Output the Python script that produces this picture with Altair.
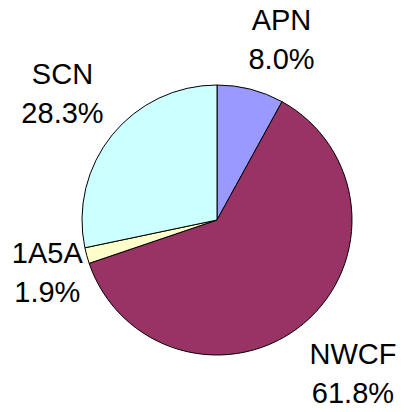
import altair as alt
import pandas as pd

categories = ["APN", "NWCF", "1A5A", "SCN"]
values = [8.0, 61.8, 1.9, 28.3]
colors = ["#9999FF", "#993366", "#FFFFCC", "#CCFFFF"]

# label placement styling (radius from centre, fine offsets)
label_style = {
    "APN": dict(r=191, dx=17, dy=-14),
    "NWCF": dict(r=207, dx=3, dy=-24),
    "1A5A": dict(r=178, dx=2, dy=-13),
    "SCN": dict(r=199, dx=0, dy=-20),
}

df = pd.DataFrame({
    "cat": categories,
    "val": values,
    "idx": list(range(len(categories))),
    "label": [f"{c}\n{v:.1f}%" for c, v in zip(categories, values)],
})

CX, CY, R = 209, 208, 135
FONT = "Liberation Sans"

theta_scale = alt.Scale(domain=[0, sum(values)])
color = alt.Color("cat:N", scale=alt.Scale(domain=categories, range=colors), legend=None)

pie = alt.Chart(df).mark_arc(radius=R, stroke="black", strokeWidth=1).encode(
    theta=alt.Theta("val:Q", stack=True, scale=theta_scale),
    order=alt.Order("idx:Q"),
    color=color,
    x=alt.value(CX),
    y=alt.value(CY),
)

layers = [pie]
for c in categories:
    s = label_style[c]
    t = alt.Chart(df).transform_window(
        cum="sum(val)", sort=[alt.SortField("idx")]
    ).transform_calculate(
        mid="datum.cum - datum.val / 2"
    ).transform_filter(
        alt.datum.cat == c
    ).mark_text(
        radius=s["r"], dx=s["dx"], dy=s["dy"], font=FONT, fontSize=29,
        lineBreak="\n", lineHeight=39, align="center", baseline="middle", color="black",
    ).encode(
        theta=alt.Theta("mid:Q", stack=None, scale=theta_scale),
        text="label:N",
        x=alt.value(CX),
        y=alt.value(CY),
    )
    layers.append(t)

chart = alt.layer(*layers).properties(
    width=388, height=396,
    padding={"top": 4, "left": 0, "right": 0, "bottom": 0},
    autosize=alt.AutoSizeParams(type="none"),
    background="white",
).configure_view(stroke=None)

chart.save("out.html", embed_options={"renderer": "svg", "actions": False})
